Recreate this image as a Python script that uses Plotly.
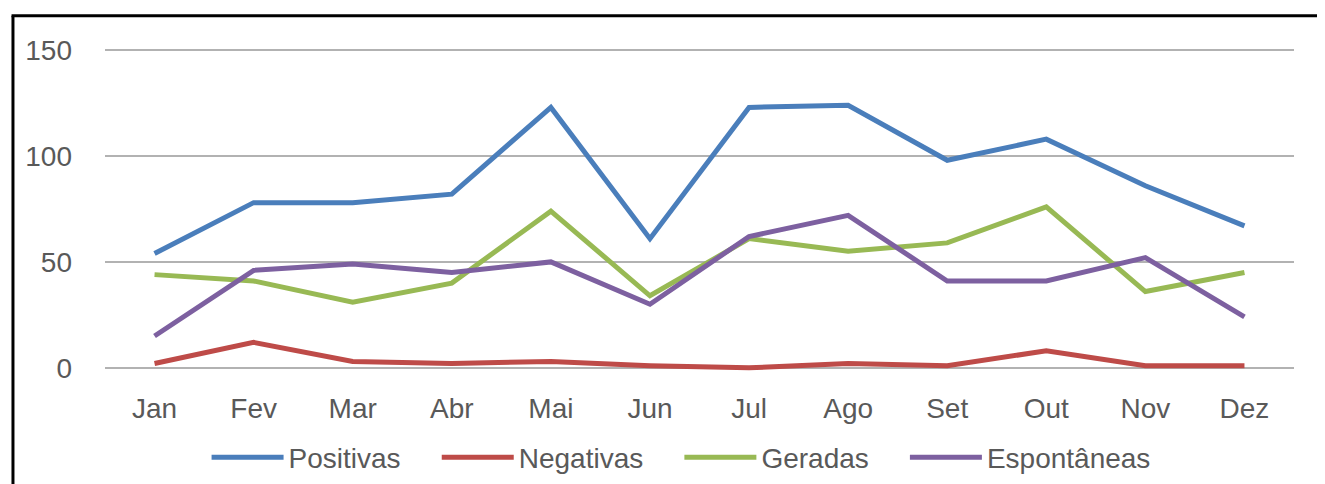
import plotly.graph_objects as go

months = ["Jan", "Fev", "Mar", "Abr", "Mai", "Jun", "Jul", "Ago", "Set", "Out", "Nov", "Dez"]
positivas = [54, 78, 78, 82, 123, 61, 123, 124, 98, 108, 86, 67]
negativas = [2, 12, 3, 2, 3, 1, 0, 2, 1, 8, 1, 1]
geradas = [44, 41, 31, 40, 74, 34, 61, 55, 59, 76, 36, 45]
espontaneas = [15, 46, 49, 45, 50, 30, 62, 72, 41, 41, 52, 24]

series = [
    ("Positivas", positivas, "#4A7EBB"),
    ("Negativas", negativas, "#BE4B48"),
    ("Geradas", geradas, "#98B954"),
    ("Espontâneas", espontaneas, "#7D60A0"),
]

FONT = "Liberation Sans, Arial, sans-serif"
PAD = "\u00a0" * 4  # spacing after legend entries

fig = go.Figure()
for i, (name, vals, col) in enumerate(series):
    fig.add_trace(go.Scatter(
        x=months, y=vals, name=name + (PAD if i < len(series) - 1 else ""),
        mode="lines", line=dict(color=col, width=5), cliponaxis=False,
    ))

fig.update_layout(
    width=1317, height=476,
    margin=dict(l=97, r=31, t=37.76, b=111.76, autoexpand=False),
    paper_bgcolor="white", plot_bgcolor="white",
    font=dict(family=FONT, size=28, color="#595959"),
    showlegend=True,
    legend=dict(orientation="h", x=0.4845, xanchor="center", y=-0.2627, yanchor="middle",
                font=dict(size=28, color="#595959"), itemwidth=72,
                bgcolor="rgba(0,0,0,0)"),
    xaxis=dict(showgrid=False, zeroline=False, showline=False, ticks="",
               ticklabelstandoff=17, range=[-0.5, 11.5]),
    yaxis=dict(range=[-2, 152], tickvals=[0, 50, 100, 150], showgrid=True,
               gridcolor="#B2B2B2", gridwidth=2, zeroline=False, showline=False,
               ticks="", ticklabelstandoff=32),
    shapes=[
        dict(type="line", xref="paper", yref="paper", x0=-0.0774, x1=-0.0774,
             y0=1.0926, y1=-0.5, line=dict(color="black", width=3)),
        dict(type="line", xref="paper", yref="paper", x0=-0.0786, x1=1.05,
             y0=1.0926, y1=1.0926, line=dict(color="black", width=3)),
    ],
)

fig.write_html("out.html")
